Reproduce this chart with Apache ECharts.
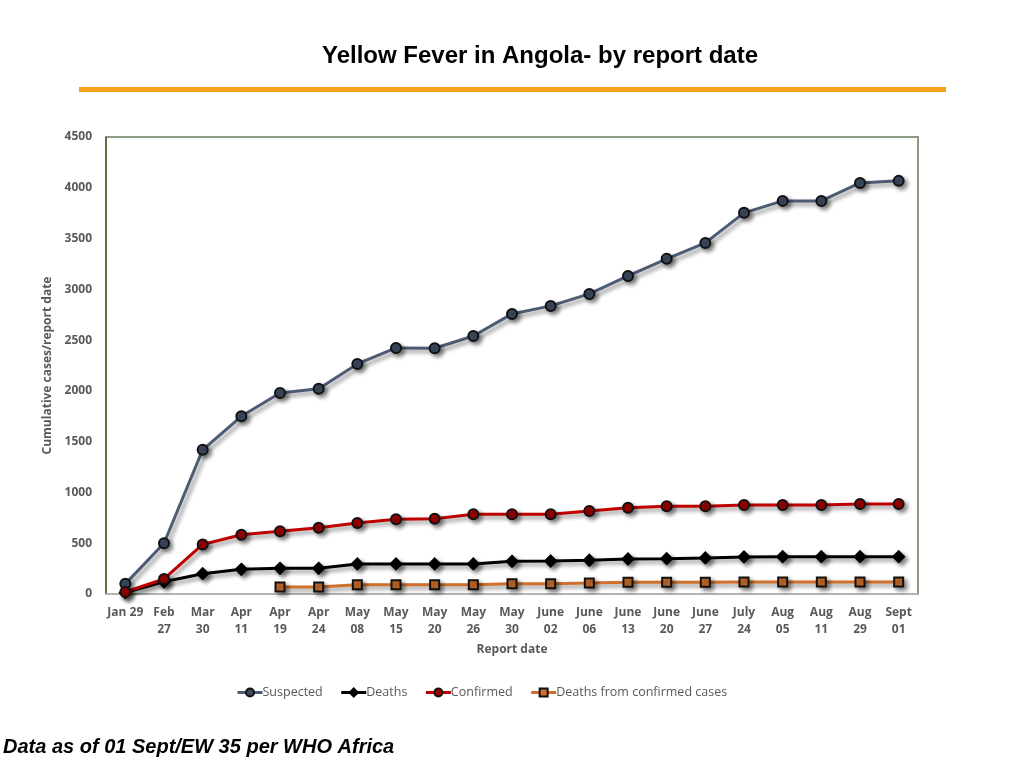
<!DOCTYPE html>
<html>
<head>
<meta charset="utf-8">
<script src="https://cdn.jsdelivr.net/npm/echarts@6/dist/echarts.min.js"></script>
<style>html,body{margin:0;padding:0;background:#fff}#c{width:1024px;height:768px}</style>
</head>
<body>
<div id="c"></div>
<script>
var categories = ['Jan 29','Feb\n27','Mar\n30','Apr\n11','Apr\n19','Apr\n24','May\n08','May\n15','May\n20','May\n26','May\n30','June\n02','June\n06','June\n13','June\n20','June\n27','July\n24','Aug\n05','Aug\n11','Aug\n29','Sept\n01'];
var suspected = [100,500,1420,1750,1980,2020,2265,2423,2420,2540,2758,2837,2955,3132,3300,3457,3753,3871,3870,4048,4068];
var deaths = [13,121,200,243,253,253,296,296,296,296,322,325,332,345,348,355,365,368,368,368,368];
var confirmed = [20,148,488,584,617,653,699,735,742,785,785,785,818,850,864,864,877,877,877,887,887];
var deathsConfirmed = ['-','-','-','-',69,69,92,92,92,92,102,102,108,115,115,115,118,118,118,118,118];
var yTicks = [0,500,1000,1500,2000,2500,3000,3500,4000,4500];

var chart = echarts.init(document.getElementById('c'));
var shadow = {shadowColor:'rgba(0,0,0,0.45)', shadowBlur:4, shadowOffsetX:3, shadowOffsetY:3};
function mk(name, data, lineColor, symbol, size, fill, border){
  return {
    name:name, type:'line', data:data, symbol:symbol, symbolSize:size,
    lineStyle:Object.assign({color:lineColor, width:3}, shadow),
    itemStyle:Object.assign({color:fill, borderColor:border, borderWidth:2}, shadow),
    emphasis:{disabled:true}, animation:false
  };
}
chart.setOption({
  animation:false,
  title:[{
    text:'Yellow Fever in Angola- by report date', left:540, top:44, textAlign:'center', padding:0,
    textStyle:{fontFamily:'Liberation Sans', fontWeight:'bold', fontSize:24, color:'#000'}
  },{
    text:'Data as of 01 Sept/EW 35 per WHO Africa', left:3, top:737, padding:0,
    textStyle:{fontFamily:'Liberation Sans', fontWeight:'bold', fontStyle:'italic', fontSize:20, color:'#000'}
  }],
  graphic:[{
    type:'rect', shape:{x:79, y:87, width:867, height:5}, style:{fill:'#f7a01c'}, silent:true
  },{
    type:'rect', shape:{x:106, y:137, width:812, height:457}, style:{fill:'none', stroke:'#8c9a82', lineWidth:2}, silent:true, z:-1
  },{
    type:'line', shape:{x1:106, y1:137, x2:106, y2:594}, style:{stroke:'#4f6228', lineWidth:1.5}, silent:true
  }],
  legend:{
    top:681, left:231, itemGap:17, itemWidth:25, itemHeight:10,
    lineStyle:{width:3, shadowBlur:0, shadowOffsetX:0, shadowOffsetY:0},
    itemStyle:{shadowBlur:0, shadowOffsetX:0, shadowOffsetY:0},
    textStyle:{fontFamily:'Open Sans', fontSize:12.5, color:'#595959', padding:[0,0,0,-5]},
    data:['Suspected','Deaths','Confirmed','Deaths from confirmed cases']
  },
  grid:{left:106, right:106, top:137, bottom:174},
  xAxis:{
    type:'category', data:categories, boundaryGap:true,
    name:'Report date', nameLocation:'middle', nameGap:50,
    nameTextStyle:{fontFamily:'Open Sans', fontSize:12, fontWeight:'bold', color:'#595959'},
    axisLine:{lineStyle:{color:'#bfbfbf', width:1.5}}, axisTick:{show:false},
    axisLabel:{interval:0, fontFamily:'Open Sans', fontSize:12, fontWeight:'bold', color:'#595959', lineHeight:17, margin:10}
  },
  yAxis:{
    type:'value', min:0, max:4500, interval:500,
    name:'Cumulative cases/report date', nameLocation:'middle', nameGap:48,
    nameTextStyle:{fontFamily:'Open Sans', fontSize:12, fontWeight:'bold', color:'#595959'},
    axisLine:{show:false}, axisTick:{show:false}, splitLine:{show:false},
    axisLabel:{fontFamily:'Open Sans', fontSize:12, fontWeight:'bold', color:'#595959', margin:14,
      formatter:function(v){return yTicks.indexOf(v)>=0?String(v):'';}}
  },
  series:[
    mk('Suspected', suspected, '#4d5b75', 'circle', 10, '#3f4d63', '#111'),
    mk('Deaths', deaths, '#000', 'diamond', 11, '#000', '#000'),
    mk('Confirmed', confirmed, '#c00000', 'circle', 10, '#a00000', '#111'),
    mk('Deaths from confirmed cases', deathsConfirmed, '#d0702c', 'rect', 9, '#d0702c', '#111')
  ]
});
</script>
</body>
</html>
